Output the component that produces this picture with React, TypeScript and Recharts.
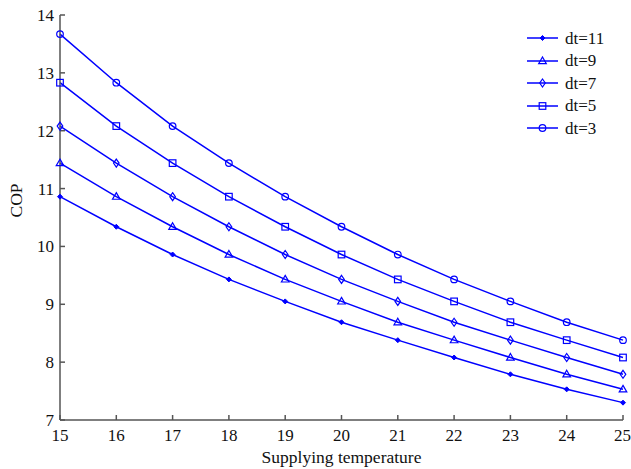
import React from "react";
import { LineChart, Line, XAxis, YAxis, Legend } from "recharts";

const temps = [15, 16, 17, 18, 19, 20, 21, 22, 23, 24, 25];
const dt11 = [10.86, 10.34, 9.86, 9.43, 9.05, 8.69, 8.38, 8.08, 7.79, 7.53, 7.3];
const dt9 = [11.44, 10.86, 10.34, 9.86, 9.43, 9.05, 8.69, 8.38, 8.08, 7.79, 7.53];
const dt7 = [12.08, 11.44, 10.86, 10.34, 9.86, 9.43, 9.05, 8.69, 8.38, 8.08, 7.79];
const dt5 = [12.83, 12.08, 11.44, 10.86, 10.34, 9.86, 9.43, 9.05, 8.69, 8.38, 8.08];
const dt3 = [13.67, 12.83, 12.08, 11.44, 10.86, 10.34, 9.86, 9.43, 9.05, 8.69, 8.38];
const xTicks = [15, 16, 17, 18, 19, 20, 21, 22, 23, 24, 25];
const yTicks = [7, 8, 9, 10, 11, 12, 13, 14];

const seriesDefs = [
  { key: "dt11", name: "dt=11", shape: "dot" },
  { key: "dt9", name: "dt=9", shape: "triangle" },
  { key: "dt7", name: "dt=7", shape: "diamond" },
  { key: "dt5", name: "dt=5", shape: "square" },
  { key: "dt3", name: "dt=3", shape: "circle" },
];

const data = temps.map((t, i) => ({
  t,
  dt11: dt11[i],
  dt9: dt9[i],
  dt7: dt7[i],
  dt5: dt5[i],
  dt3: dt3[i],
}));

const BLUE = "#0000ff";
const AXIS = "#555555";
const FONT = "'Liberation Serif', 'Times New Roman', serif";

function Marker({ shape, cx, cy }: { shape: string; cx: number; cy: number }) {
  const common = { stroke: BLUE, strokeWidth: 1.2, fill: "none" };
  switch (shape) {
    case "dot":
      return (
        <path
          d={`M${cx - 2.5},${cy} L${cx},${cy - 2.5} L${cx + 2.5},${cy} L${cx},${cy + 2.5} Z`}
          fill={BLUE}
          stroke={BLUE}
          strokeWidth={1}
        />
      );
    case "triangle":
      return <path d={`M${cx},${cy - 4} L${cx + 3.8},${cy + 2.6} L${cx - 3.8},${cy + 2.6} Z`} {...common} />;
    case "diamond":
      return <path d={`M${cx},${cy - 4} L${cx + 2.8},${cy} L${cx},${cy + 4} L${cx - 2.8},${cy} Z`} {...common} />;
    case "square":
      return <rect x={cx - 3.3} y={cy - 3.3} width={6.6} height={6.6} {...common} />;
    default:
      return <circle cx={cx} cy={cy} r={3.3} {...common} />;
  }
}

const makeDot = (shape: string) => (props: any) => (
  <Marker key={`${shape}-${props.index}`} shape={shape} cx={props.cx} cy={props.cy} />
);

const LegendContent = () => (
  <div style={{ fontFamily: FONT, fontSize: 17, color: "#111" }}>
    {seriesDefs.map((s) => (
      <div key={s.key} style={{ display: "flex", alignItems: "center", height: 22.5 }}>
        <svg width={38} height={12}>
          <line x1={0} y1={6} x2={31} y2={6} stroke={BLUE} strokeWidth={1.5} />
          <Marker shape={s.shape} cx={15.5} cy={6} />
        </svg>
        <span style={{ lineHeight: "17px" }}>{s.name}</span>
      </div>
    ))}
  </div>
);

const emptyTick = () => <g />;

export default function App() {
  return (
    <div style={{ position: "absolute", left: 0, top: 0, width: 631, height: 469, background: "#fff" }}>
      <LineChart width={631} height={469} data={data} margin={{ top: 15, right: 8, left: 0, bottom: 0 }}>
        <XAxis
          xAxisId="b"
          dataKey="t"
          type="number"
          domain={[15, 25]}
          ticks={xTicks}
          tickSize={-5}
          tickMargin={14}
          height={49}
          stroke={AXIS}
          strokeWidth={1.5}
          tick={{ fill: "#111", fontSize: 17, fontFamily: FONT }}
          label={{ value: "Supplying temperature", position: "insideBottom", offset: 6, fill: "#111", fontSize: 17.5, fontFamily: FONT }}
        />
        <XAxis
          xAxisId="t"
          dataKey="t"
          type="number"
          orientation="top"
          domain={[15, 25]}
          ticks={xTicks}
          tickSize={-5}
          height={0}
          stroke={AXIS}
          strokeWidth={1.5}
          tick={emptyTick}
        />
        <YAxis
          yAxisId="l"
          type="number"
          domain={[7, 14]}
          ticks={yTicks}
          tickSize={-5}
          tickMargin={11}
          width={60}
          stroke={AXIS}
          strokeWidth={1.5}
          tick={{ fill: "#111", fontSize: 17, fontFamily: FONT }}
          label={{ value: "COP", angle: -90, position: "insideLeft", offset: 16, fill: "#111", fontSize: 17.5, fontFamily: FONT }}
        />
        <YAxis
          yAxisId="r"
          type="number"
          orientation="right"
          domain={[7, 14]}
          ticks={yTicks}
          tickSize={-5}
          width={0}
          stroke={AXIS}
          strokeWidth={1.5}
          tick={emptyTick}
        />
        <Legend
          layout="vertical"
          verticalAlign="middle"
          align="center"
          content={LegendContent}
          wrapperStyle={{ position: "absolute", left: 527, top: 27, width: 100 }}
        />
        {seriesDefs.map((s) => (
          <Line
            key={s.key}
            xAxisId="b"
            yAxisId="l"
            dataKey={s.key}
            name={s.name}
            type="linear"
            stroke={BLUE}
            strokeWidth={1.5}
            dot={makeDot(s.shape)}
            activeDot={false}
            isAnimationActive={false}
          />
        ))}
      </LineChart>
    </div>
  );
}
